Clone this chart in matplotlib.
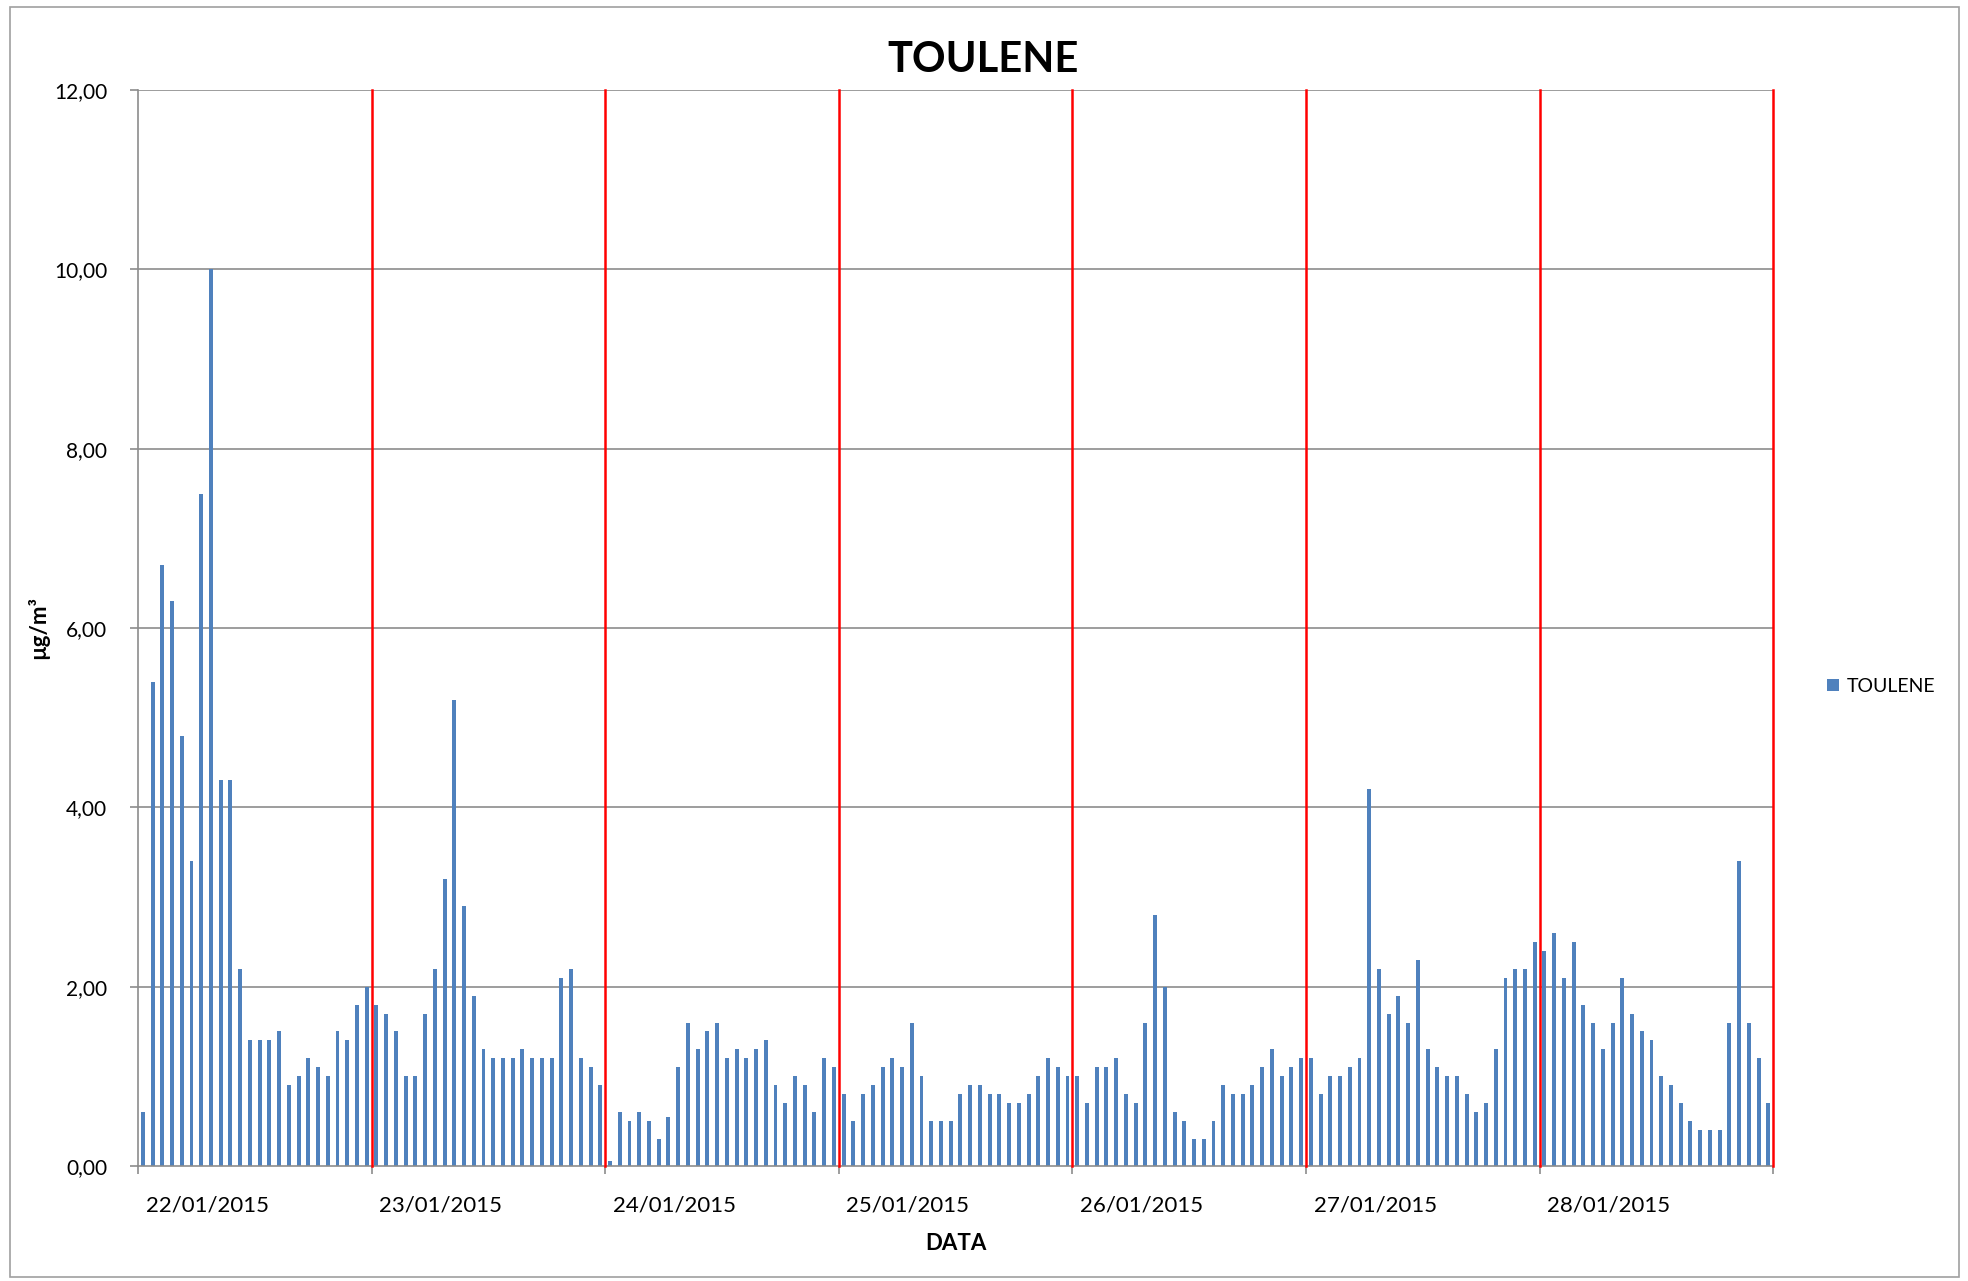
import matplotlib
matplotlib.use('Agg')
import matplotlib.pyplot as plt
from matplotlib.patches import Rectangle
import numpy as np

plt.rcParams['font.family'] = ['Lato', 'DejaVu Sans']

# valori orari di toluene (µg/m³), 24 per giorno
days = ['22/01/2015', '23/01/2015', '24/01/2015', '25/01/2015',
        '26/01/2015', '27/01/2015', '28/01/2015']
d22 = [0.6, 5.4, 6.7, 6.3, 4.8, 3.4, 7.5, 10.0, 4.3, 4.3, 2.2, 1.4,
       1.4, 1.4, 1.5, 0.9, 1.0, 1.2, 1.1, 1.0, 1.5, 1.4, 1.8, 2.0]
d23 = [1.8, 1.7, 1.5, 1.0, 1.0, 1.7, 2.2, 3.2, 5.2, 2.9, 1.9, 1.3,
       1.2, 1.2, 1.2, 1.3, 1.2, 1.2, 1.2, 2.1, 2.2, 1.2, 1.1, 0.9]
d24 = [0.05, 0.6, 0.5, 0.6, 0.5, 0.3, 0.55, 1.1, 1.6, 1.3, 1.5, 1.6,
       1.2, 1.3, 1.2, 1.3, 1.4, 0.9, 0.7, 1.0, 0.9, 0.6, 1.2, 1.1]
d25 = [0.8, 0.5, 0.8, 0.9, 1.1, 1.2, 1.1, 1.6, 1.0, 0.5, 0.5, 0.5,
       0.8, 0.9, 0.9, 0.8, 0.8, 0.7, 0.7, 0.8, 1.0, 1.2, 1.1, 1.0]
d26 = [1.0, 0.7, 1.1, 1.1, 1.2, 0.8, 0.7, 1.6, 2.8, 2.0, 0.6, 0.5,
       0.3, 0.3, 0.5, 0.9, 0.8, 0.8, 0.9, 1.1, 1.3, 1.0, 1.1, 1.2]
d27 = [1.2, 0.8, 1.0, 1.0, 1.1, 1.2, 4.2, 2.2, 1.7, 1.9, 1.6, 2.3,
       1.3, 1.1, 1.0, 1.0, 0.8, 0.6, 0.7, 1.3, 2.1, 2.2, 2.2, 2.5]
d28 = [2.4, 2.6, 2.1, 2.5, 1.8, 1.6, 1.3, 1.6, 2.1, 1.7, 1.5, 1.4,
       1.0, 0.9, 0.7, 0.5, 0.4, 0.4, 0.4, 1.6, 3.4, 1.6, 1.2, 0.7]

toulene = d22 + d23 + d24 + d25 + d26 + d27 + d28
x = np.arange(len(toulene))

fig = plt.figure(figsize=(19.68, 12.81), dpi=100)
ax = fig.add_axes([0.0701, 0.0898, 0.8309, 0.8399])

grid_col = '#8c8c8c'
for yv in np.arange(2, 13, 2):
    ax.axhline(yv, color=grid_col, lw=1.2, zorder=1)

ax.bar(x, toulene, width=0.4, color='#4F81BD', zorder=2, label='TOULENE')

# separatori tra i giorni
for d in range(1, len(days) + 1):
    ax.axvline(24 * d - 0.5, color='red', lw=1.8, zorder=3, clip_on=False)

ax.set_xlim(-0.5, len(toulene) - 0.5)
ax.set_ylim(0, 12)

yt = np.arange(0, 13, 2)
ax.set_yticks(yt)
ax.set_yticklabels([('%.2f' % v).replace('.', ',') for v in yt])

ax.set_xticks([24 * d - 0.5 for d in range(len(days) + 1)])
ax.set_xticklabels([])
ax.set_xticks([24 * d + 6.6 for d in range(len(days))], minor=True)
ax.set_xticklabels(days, minor=True)

ax.tick_params(axis='y', which='major', length=6, width=1.2, color=grid_col,
               labelsize=15, pad=16)
ax.tick_params(axis='x', which='major', length=6, width=1.2, color=grid_col)
ax.tick_params(axis='x', which='minor', length=0, labelsize=16, pad=21)

for s in ['top', 'right']:
    ax.spines[s].set_visible(False)
for s in ['left', 'bottom']:
    ax.spines[s].set_color(grid_col)
    ax.spines[s].set_linewidth(1.2)

fig.text(0.4995, 0.953, 'TOULENE', ha='center', va='center',
         fontsize=30, fontweight='bold')
fig.text(0.4858, 0.029, 'DATA', ha='center', va='center',
         fontsize=16, fontweight='bold')
fig.text(0.0193, 0.510, 'µg/m³', ha='center', va='center', rotation=90,
         fontsize=16, fontweight='bold')

ax.legend(loc='center left', bbox_to_anchor=(0.9195, 0.464),
          bbox_transform=fig.transFigure, frameon=False, fontsize=14,
          handlelength=0.6, handleheight=0.6, handletextpad=0.4)

# cornice dell'area grafico
fig.patches.append(Rectangle((0.0049, 0.003), 0.9906, 0.9917,
                             transform=fig.transFigure, fill=False,
                             edgecolor='#a0a0a0', lw=1.2))

fig.savefig('out.png', dpi=100)
